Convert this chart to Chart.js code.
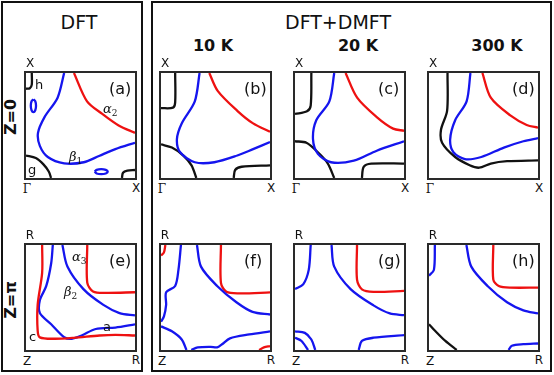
<!DOCTYPE html>
<html lang="en">
<head>
  <meta charset="UTF-8">
  <title>Fermi surfaces DFT vs DFT+DMFT</title>
  <script src="https://cdn.jsdelivr.net/npm/chart.js"></script>
  <style>
    body {
      margin: 0;
      width: 554px;
      height: 375px;
      background: #fff;
      font-family: "DejaVu Sans", sans-serif;
      color: #111;
      position: relative;
      overflow: hidden;
    }
    .frame {
      position: absolute;
      border: 2px solid #111;
      box-sizing: border-box;
    }
    .panel {
      position: absolute;
      border: 2px solid #2a2a2a;
      box-sizing: border-box;
    }
    .lbl {
      position: absolute;
      white-space: nowrap;
      line-height: 1;
    }
    .title { font-size: 19px; transform: translateX(-50%); }
    .temp { font-size: 16px; font-weight: bold; transform: translateX(-50%); }
    .corner { font-size: 12px; transform: translateX(-50%); }
    .gamma { font-family: "DejaVu Serif", serif; font-size: 12px; transform: translateX(-50%); }
    .tag { font-size: 16px; }
    .greek { font-family: "DejaVu Serif", serif; font-style: italic; font-size: 13px; }
    .greek sub { font-size: 9px; font-style: normal; vertical-align: -3px; }
    .small { font-size: 13px; }
    .side {
      font-size: 16px;
      font-weight: bold;
      transform: translate(-50%, -50%) rotate(-90deg);
    }
  </style>
</head>
<body>
  <div class="frame" style="left:1px; top:1px; width:142px; height:371px;"></div>
  <div class="frame" style="left:151px; top:1px; width:401px; height:371px;"></div>

  <div class="lbl title" style="left:79px; top:13px;">DFT</div>
  <div class="lbl title" style="left:338px; top:13px;">DFT+DMFT</div>
  <div class="lbl temp" style="left:213px; top:38px;">10 K</div>
  <div class="lbl temp" style="left:358px; top:38px;">20 K</div>
  <div class="lbl temp" style="left:497px; top:38px;">300 K</div>

  <div class="lbl side" style="left:11px; top:117px;">Z=0</div>
  <div class="lbl side" style="left:11px; top:300px;">Z=π</div>

  <div id="panels"></div>

  <script>
    // curve points in panel units: [x, y], 0..1 from lower-left corner
    // (a) DFT, Z=0
    const aBlue = [[0.35,1],[0.29,0.765],[0.17,0.58],[0.11,0.43],[0.127,0.306],[0.2,0.2],[0.35,0.14],[0.53,0.15],[0.67,0.21],[0.82,0.275],[1,0.336]];
    const aRed = [[0.44,1],[0.56,0.73],[0.70,0.61],[0.85,0.50],[1,0.43]];
    const aBlackH = [[0.053,1],[0.053,0.89],[0.035,0.855],[0,0.85]];
    const aBlackG = [[0,0.214],[0.09,0.19],[0.16,0.13],[0.21,0.06],[0.23,0]];
    const aBlackX = [[0.88,0],[0.89,0.05],[0.93,0.07],[1,0.076]];
    const aPocket1 = [[0.068,0.749],[0.085,0.731],[0.092,0.688],[0.085,0.645],[0.068,0.627],[0.051,0.645],[0.044,0.688],[0.051,0.731],[0.068,0.749]];
    const aPocket2 = [[0.63,0.06],[0.648,0.077],[0.69,0.084],[0.732,0.077],[0.75,0.06],[0.732,0.043],[0.69,0.036],[0.648,0.043],[0.63,0.06]];

    // (b) 10 K, Z=0
    const bBlue = [[0.354,1],[0.31,0.73],[0.19,0.52],[0.146,0.37],[0.176,0.245],[0.31,0.15],[0.49,0.15],[0.70,0.214],[0.845,0.275],[1,0.342]];
    const bRed = [[0.443,1],[0.52,0.83],[0.70,0.64],[0.845,0.52],[1,0.44]];
    const bBlack1 = [[0.13,1],[0.13,0.72],[0.11,0.67],[0,0.665]];
    const bBlack2 = [[0,0.32],[0.10,0.29],[0.205,0.214],[0.28,0.12],[0.324,0]];
    const bBlack3 = [[0.667,0],[0.68,0.076],[0.74,0.107],[1,0.12]];

    // (c) 20 K, Z=0
    const cBlue = [[0.36,1],[0.315,0.73],[0.195,0.55],[0.165,0.37],[0.21,0.23],[0.33,0.15],[0.54,0.165],[0.75,0.26],[1,0.35]];
    const cRed = [[0.464,1],[0.57,0.765],[0.75,0.58],[0.90,0.47],[1,0.45]];
    const cBlack1 = [[0.15,1],[0.144,0.69],[0.11,0.635],[0,0.61]];
    const cBlack2 = [[0,0.35],[0.105,0.336],[0.21,0.245],[0.30,0.14],[0.36,0]];
    const cBlack3 = [[0.614,0],[0.63,0.107],[0.70,0.137],[1,0.137]];

    // (d) 300 K, Z=0
    const dBlue = [[0.38,1],[0.345,0.73],[0.24,0.55],[0.194,0.367],[0.224,0.245],[0.33,0.18],[0.48,0.2],[0.687,0.29],[0.866,0.35],[1,0.38]];
    const dRed = [[0.49,1],[0.567,0.765],[0.746,0.596],[0.896,0.505],[1,0.48]];
    const dBlack = [[0.17,1],[0.166,0.64],[0.11,0.46],[0.12,0.336],[0.24,0.2],[0.373,0.122],[0.46,0.098],[0.567,0.138],[0.716,0.16],[1,0.168]];

    // (e) DFT, Z=pi
    const eRedOuter = [[0.148,1],[0.148,0.734],[0.107,0.43],[0.107,0.184],[0.127,0.12],[0.26,0.107],[0.438,0.116],[0.675,0.138],[0.82,0.144],[1,0.138]];
    const eBlueOuter = [[0.246,1],[0.231,0.826],[0.186,0.61],[0.127,0.474],[0.127,0.352],[0.231,0.245],[0.35,0.122],[0.42,0.107],[0.51,0.138],[0.64,0.2],[0.82,0.214],[1,0.245]];
    const eBlueInner = [[0.334,1],[0.38,0.795],[0.527,0.58],[0.71,0.43],[0.858,0.352],[1,0.33]];
    const eRedInner = [[0.562,1],[0.562,0.642],[0.615,0.557],[0.734,0.544],[1,0.55]];

    // (f) 10 K, Z=pi
    const fRedCorner = [[0,0.90],[0.027,0.93],[0.04,1]];
    const fBlueLeft = [[0.183,1],[0.16,0.763],[0.13,0.61],[0.047,0.55],[0.047,0.43],[0.027,0.32],[0,0.27]];
    const fBlueMid = [[0.33,1],[0.367,0.794],[0.515,0.61],[0.692,0.455],[0.84,0.363],[1,0.338]];
    const fRedMid = [[0.55,1],[0.55,0.64],[0.60,0.554],[0.72,0.54],[1,0.548]];
    const fBlueArc = [[0,0.225],[0.10,0.178],[0.19,0.1],[0.234,0]];
    const fBlueBottom = [[0.278,0],[0.337,0.025],[0.456,0.03],[0.515,0.025],[0.56,0.055],[0.633,0.111],[0.81,0.148],[1,0.178]];
    const fRedBottom = [[0.9,0],[0.944,0.025],[1,0.037]];

    // (g) 20 K, Z=pi
    const gBlueLeft = [[0.144,1],[0.126,0.763],[0.075,0.625],[0,0.58]];
    const gBlueMid = [[0.335,1],[0.36,0.794],[0.51,0.58],[0.72,0.425],[0.87,0.348],[1,0.332]];
    const gRed = [[0.569,1],[0.569,0.67],[0.614,0.578],[0.72,0.554],[1,0.563]];
    const gBlueArc1 = [[0,0.178],[0.09,0.163],[0.15,0.1],[0.186,0]];
    const gBlueArc2 = [[0,0.117],[0.06,0.086],[0.12,0]];
    const gBlueBottom = [[0.584,0],[0.614,0.086],[0.72,0.117],[1,0.141]];

    // (h) 300 K, Z=pi
    const hBlueLeft = [[0.054,1],[0.045,0.763],[0,0.708]];
    const hBlueMid = [[0.343,1],[0.388,0.794],[0.537,0.61],[0.716,0.455],[0.866,0.378],[1,0.348]];
    const hRed = [[0.59,1],[0.59,0.67],[0.64,0.61],[0.746,0.594],[1,0.594]];
    const hBlack = [[0,0.246],[0.06,0.178],[0.15,0.086],[0.254,0]];
    const hBlueBottom = [[0.73,0],[0.76,0.04],[0.866,0.055],[1,0.062]];

    const RED = '#ee1111';
    const BLUE = '#1515ee';
    const BLACK = '#111111';

    const panels = [
      { tag: '(a)', x: 24, y: 71, corners: ['X', 'Γ', 'X'],
        curves: [[aBlue, BLUE], [aRed, RED], [aBlackH, BLACK], [aBlackG, BLACK], [aBlackX, BLACK], [aPocket1, BLUE], [aPocket2, BLUE]] },
      { tag: '(b)', x: 159, y: 71, corners: ['X', 'Γ', 'X'],
        curves: [[bBlue, BLUE], [bRed, RED], [bBlack1, BLACK], [bBlack2, BLACK], [bBlack3, BLACK]] },
      { tag: '(c)', x: 293, y: 71, corners: ['X', 'Γ', 'X'],
        curves: [[cBlue, BLUE], [cRed, RED], [cBlack1, BLACK], [cBlack2, BLACK], [cBlack3, BLACK]] },
      { tag: '(d)', x: 427, y: 71, corners: ['X', 'Γ', 'X'],
        curves: [[dBlue, BLUE], [dRed, RED], [dBlack, BLACK]] },
      { tag: '(e)', x: 24, y: 243, corners: ['R', 'Z', 'R'],
        curves: [[eRedOuter, RED], [eBlueOuter, BLUE], [eBlueInner, BLUE], [eRedInner, RED]] },
      { tag: '(f)', x: 159, y: 243, corners: ['R', 'Z', 'R'],
        curves: [[fRedCorner, RED], [fBlueLeft, BLUE], [fBlueMid, BLUE], [fRedMid, RED], [fBlueArc, BLUE], [fBlueBottom, BLUE], [fRedBottom, RED]] },
      { tag: '(g)', x: 293, y: 243, corners: ['R', 'Z', 'R'],
        curves: [[gBlueLeft, BLUE], [gBlueMid, BLUE], [gRed, RED], [gBlueArc1, BLUE], [gBlueArc2, BLUE], [gBlueBottom, BLUE]] },
      { tag: '(h)', x: 427, y: 243, corners: ['R', 'Z', 'R'],
        curves: [[hBlueLeft, BLUE], [hBlueMid, BLUE], [hRed, RED], [hBlack, BLACK], [hBlueBottom, BLUE]] }
    ];

    // extra in-panel labels for the DFT column
    const bandLabels = [
      { html: 'α<sub>2</sub>', cls: 'greek', x: 103, y: 102 },
      { html: 'β<sub>1</sub>', cls: 'greek', x: 69, y: 150 },
      { html: 'h', cls: 'small', x: 35, y: 78 },
      { html: 'g', cls: 'small', x: 28, y: 163 },
      { html: 'α<sub>3</sub>', cls: 'greek', x: 72, y: 250 },
      { html: 'β<sub>2</sub>', cls: 'greek', x: 64, y: 285 },
      { html: 'a', cls: 'small', x: 103, y: 320 },
      { html: 'c', cls: 'small', x: 29, y: 330 }
    ];

    const W = 113, H = 109;
    const host = document.getElementById('panels');

    function addLabel(text, cls, left, top, asHtml) {
      const d = document.createElement('div');
      d.className = 'lbl ' + cls;
      d.style.left = left + 'px';
      d.style.top = top + 'px';
      if (asHtml) d.innerHTML = text; else d.textContent = text;
      document.body.appendChild(d);
    }

    panels.forEach((p) => {
      const box = document.createElement('div');
      box.className = 'panel';
      box.style.left = p.x + 'px';
      box.style.top = p.y + 'px';
      box.style.width = W + 'px';
      box.style.height = H + 'px';
      const canvas = document.createElement('canvas');
      box.appendChild(canvas);
      host.appendChild(box);

      new Chart(canvas, {
        type: 'scatter',
        data: {
          datasets: p.curves.map(([pts, color]) => ({
            data: pts.map(([x, y]) => ({ x, y })),
            showLine: true,
            borderColor: color,
            borderWidth: 2.3,
            pointRadius: 0,
            tension: 0.3,
            fill: false
          }))
        },
        options: {
          responsive: true,
          maintainAspectRatio: false,
          animation: false,
          layout: { padding: 0 },
          scales: {
            x: { type: 'linear', min: 0, max: 1, display: false },
            y: { type: 'linear', min: 0, max: 1, display: false }
          },
          plugins: { legend: { display: false }, tooltip: { enabled: false } }
        }
      });

      addLabel(p.tag, 'tag', p.x + W - 28, p.y + 10);
      addLabel(p.corners[0], 'corner', p.x + 6, p.y - 14);
      addLabel(p.corners[1], p.corners[1] === 'Γ' ? 'gamma' : 'corner', p.x + 3, p.y + H + 3);
      addLabel(p.corners[2], 'corner', p.x + W - 1, p.y + H + 2);
    });

    bandLabels.forEach((l) => addLabel(l.html, l.cls, l.x, l.y, true));
  </script>
</body>
</html>
